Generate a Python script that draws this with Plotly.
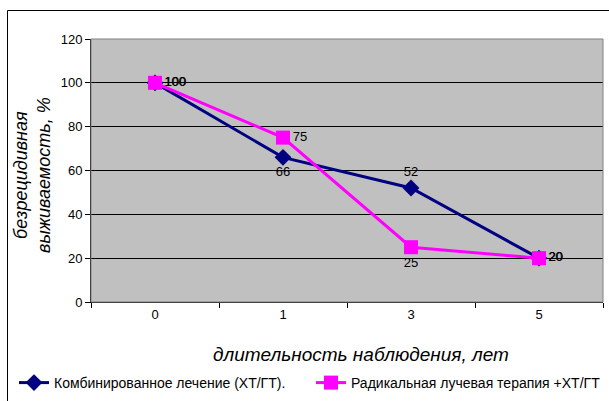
import plotly.graph_objects as go

categories = ["0", "1", "3", "5"]
combined = [100, 66, 52, 20]
radical = [100, 75, 25, 20]
combined_pos = ["middle right", "bottom center", "top center", "middle right"]
radical_pos = ["middle right", "middle right", "bottom center", "middle right"]
y_ticks = [0, 20, 40, 60, 80, 100, 120]

W, H = 609, 401
L, R, T, B = 91, 6, 39, 99
pw = W - L - R
ph = H - T - B

def px(x):
    return (x - L) / pw

def py(y):
    return (H - B - y) / ph

font = "Liberation Sans, Arial, sans-serif"

fig = go.Figure()
fig.add_trace(go.Scatter(
    x=categories, y=combined, mode="lines+markers+text",
    name="Комбинированное лечение (ХТ/ГТ).",
    line=dict(color="#000080", width=3),
    marker=dict(symbol="diamond", size=13, color="#000080"),
    text=[str(v) for v in combined], textposition=combined_pos,
    textfont=dict(family=font, size=13, color="black"),
))
fig.add_trace(go.Scatter(
    x=categories, y=radical, mode="lines+markers+text",
    name="Радикальная лучевая терапия +ХТ/ГТ",
    line=dict(color="#FF00FF", width=3),
    marker=dict(symbol="square", size=14, color="#FF00FF"),
    text=[str(v) for v in radical], textposition=radical_pos,
    textfont=dict(family=font, size=13, color="black"),
))

fig.update_layout(
    width=W, height=H,
    margin=dict(l=L, r=R, t=T, b=B, autoexpand=False),
    paper_bgcolor="white",
    plot_bgcolor="#C0C0C0",
    font=dict(family=font, size=13, color="black"),
    xaxis=dict(
        type="category", tickson="boundaries", ticks="outside", ticklen=5,
        tickcolor="black", showline=True, linecolor="black", linewidth=1,
        showgrid=False, tickfont=dict(size=13), range=[-0.5, 3.5], automargin=False,
    ),
    yaxis=dict(
        range=[0, 120], tickvals=y_ticks, ticks="outside", ticklen=5,
        tickcolor="black", showline=True, linecolor="black", linewidth=1,
        showgrid=True, gridcolor="black", gridwidth=1, zeroline=False,
        tickfont=dict(size=13), automargin=False,
    ),
    showlegend=True,
    legend=dict(
        orientation="h", x=px(14), y=py(383), xanchor="left", yanchor="middle",
        font=dict(size=14), bgcolor="rgba(0,0,0,0)", entrywidth=252,
        tracegroupgap=0, itemwidth=30,
    ),
    annotations=[dict(
        text="<i>безрецидивная<br>выживаемость, %</i>", textangle=-90,
        xref="paper", yref="paper", x=px(32), y=py(175),
        showarrow=False, font=dict(size=18), xanchor="center", yanchor="middle",
    ), dict(
        text="<i>длительность наблюдения, лет</i>",
        xref="paper", yref="paper", x=px(361), y=py(354),
        showarrow=False, font=dict(size=19), xanchor="center", yanchor="middle",
    )],
    shapes=[dict(
        type="rect", xref="paper", yref="paper",
        x0=px(7.5), x1=px(615), y0=py(410), y1=py(10.5),
        line=dict(color="black", width=1), layer="above",
    ), dict(
        type="rect", xref="paper", yref="paper",
        x0=0, x1=1, y0=0, y1=1, line=dict(color="#808080", width=1),
    )],
)

fig.write_html("out.html", config={"displayModeBar": False},
               post_script="document.body.style.margin='0';document.body.style.overflow='hidden';")
